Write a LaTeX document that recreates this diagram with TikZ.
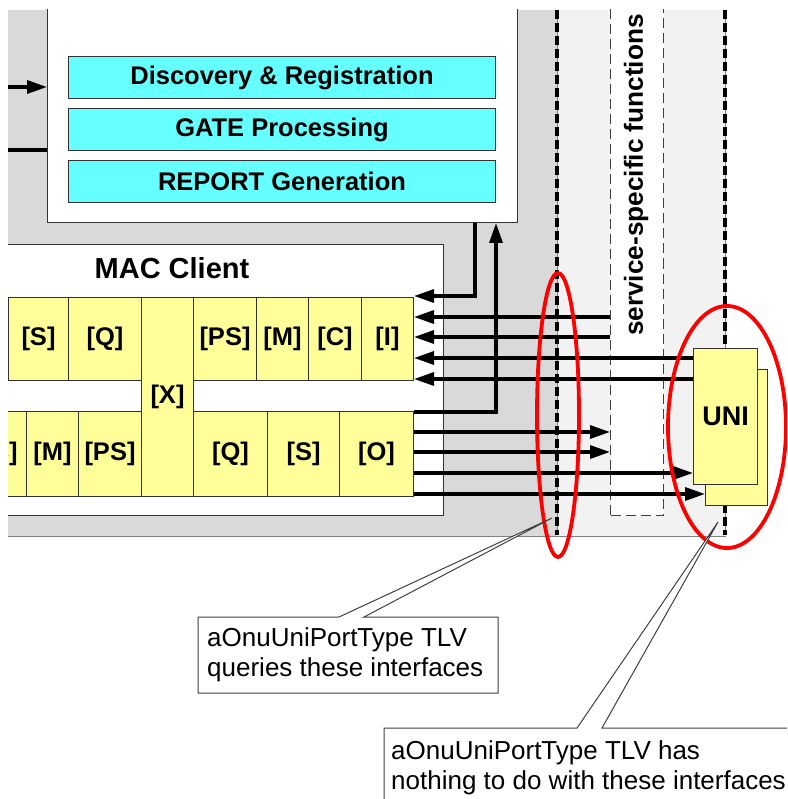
\documentclass[tikz,border=0pt]{standalone}
\usepackage{fontspec}
\setmainfont{Liberation Sans}
\usetikzlibrary{arrows.meta}
\definecolor{darkbg}{HTML}{D9D9D9}
\definecolor{lightbg}{HTML}{F2F2F2}
\definecolor{yel}{HTML}{FFFF99}
\definecolor{cyanbox}{HTML}{66FFFF}
\definecolor{edge}{HTML}{333333}
\definecolor{callgray}{HTML}{404040}
\definecolor{ringred}{HTML}{FF0000}
\begin{document}
\begin{tikzpicture}[x=1pt,y=-1pt,
  boxfont/.style={font=\fontsize{25.5}{28}\selectfont\bfseries},
  cell/.style={draw=edge, line width=1pt, fill=yel, anchor=north west, inner sep=0pt, boxfont},
  func/.style={draw=edge, line width=1pt, fill=cyanbox, anchor=north west, inner sep=0pt,
               minimum width=427pt, minimum height=42pt, boxfont},
  panel/.style={draw=edge, line width=1pt, fill=white, anchor=north west, inner sep=0pt},
  arr/.style={line width=3.3pt, -{Triangle[length=20pt,width=13pt]}},
  plainline/.style={line width=3.3pt},
  ifback/.style={line width=0.8pt, gray},
  iffront/.style={line width=4.8pt, dash pattern=on 9pt off 4pt},
  redring/.style={draw=ringred, line width=3.8pt},
  callout/.style={draw=callgray, line width=1pt, fill=white},
  calltext/.style={anchor=north west, align=left, inner sep=0pt, font=\fontsize{26}{30.5}\selectfont}
]
\useasboundingbox (0,0) rectangle (787,799);
\clip (8,10) rectangle (787,799);

% backgrounds
\fill[darkbg] (0,10) rectangle (557,536);
\fill[lightbg] (557,10) rectangle (726,536);
\draw[gray, line width=1pt] (0,536) -- (726,536);

% management box
\node[panel, minimum width=470pt, minimum height=232pt] (mgmt) at (47,-10) {};
\node[func] (disc) at (68,56) {Discovery \& Registration};
\node[func] (gate) at (68,108) {GATE Processing};
\node[func] (rep) at (68,160) {REPORT Generation};

\coordinate (inL) at (0,87);
\coordinate (inL2) at (0,150);
\draw[arr] (inL) -- (mgmt.west |- inL);
\draw[plainline] (inL2) -- (mgmt.west |- inL2);

% service specific box
\node[draw=callgray, dash pattern=on 10pt off 5pt, line width=1pt, fill=white,
      anchor=north west, inner sep=0pt, minimum width=53pt, minimum height=530pt] (svc) at (610,-15) {};
\node[rotate=90, font=\fontsize{26.2}{28}\selectfont\bfseries] (svctext) at (636,175) {service-specific functions};

% interface lines
\coordinate (ifAtop) at (557,10);
\coordinate (ifAbot) at (557,535);
\coordinate (ifBtop) at (725,10);
\coordinate (ifBbot) at (725,535);
\draw[ifback] (ifAtop) -- (ifAbot);
\draw[iffront] (ifAtop) -- (ifAbot);
\draw[ifback] (ifBtop) -- (ifBbot);
\draw[iffront] (ifBtop) -- (ifBbot);

% MAC client
\node[panel, minimum width=453pt, minimum height=271pt] (mac) at (-10,244) {};
\node[font=\fontsize{29}{32}\selectfont\bfseries] (mactitle) at (172,268) {MAC Client};

\node[cell, minimum width=60pt, minimum height=83pt] (tS) at (8,297) {[S]};
\node[cell, minimum width=73pt, minimum height=83pt] (tQ) at (68,297) {[Q]};
\node[cell, minimum width=52pt, minimum height=199pt] (X) at (141,297) {[X]};
\node[cell, minimum width=63pt, minimum height=83pt] (tPS) at (193,297) {[PS]};
\node[cell, minimum width=52pt, minimum height=83pt] (tM) at (256,297) {[M]};
\node[cell, minimum width=53pt, minimum height=83pt] (tC) at (308,297) {[C]};
\node[cell, minimum width=52pt, minimum height=83pt] (tI) at (361,297) {[I]};

\node[cell, minimum width=53pt, minimum height=85pt] (bC) at (-27,411) {[C]};
\node[cell, minimum width=52pt, minimum height=85pt] (bM) at (26,411) {[M]};
\node[cell, minimum width=63pt, minimum height=85pt] (bPS) at (78,411) {[PS]};
\node[cell, minimum width=74pt, minimum height=85pt] (bQ) at (193,411) {[Q]};
\node[cell, minimum width=72pt, minimum height=85pt] (bS) at (267,411) {[S]};
\node[cell, minimum width=74pt, minimum height=85pt] (bO) at (339,411) {[O]};

% UNI
\node[cell, minimum width=62pt, minimum height=136pt] (uniback) at (705,369) {};
\node[cell, minimum width=64pt, minimum height=136pt, font=\fontsize{27}{30}\selectfont\bfseries] (uni) at (693,348) {UNI};

% arrows into top row
\draw[arr] (mgmt.south -| 475,0) -- (475,296) -- (tI.east |- 0,296);
\draw[arr] (svc.west |- 0,317) -- (tI.east |- 0,317);
\draw[arr] (svc.west |- 0,337) -- (tI.east |- 0,337);
\draw[arr] (uni.west |- 0,358) -- (tI.east |- 0,358);
\draw[arr] (uni.west |- 0,379) -- (tI.east |- 0,379);

% arrows out of bottom row
\draw[arr] (bO.east |- 0,412) -- (496,412) -- (mgmt.south -| 496,0);
\draw[arr] (bO.east |- 0,432) -- (svc.west |- 0,432);
\draw[arr] (bO.east |- 0,452) -- (svc.west |- 0,452);
\draw[arr] (bO.east |- 0,473) -- (uni.west |- 0,473);
\draw[arr] (bO.east |- 0,494) -- (uniback.west |- 0,494);

% red rings
\draw[redring] (558,415) ellipse [x radius=21pt, y radius=142pt];
\draw[redring] (727,427) ellipse [x radius=59pt, y radius=121pt];

% callouts
\filldraw[callout] (198,617) -- (339,617) -- (552,518) -- (364,617) -- (498,617)
  -- (498,693) -- (198,693) -- cycle;
\node[calltext] (c1) at (207,627) {aOnuUniPortType TLV\\queries these interfaces};

\filldraw[callout] (384,728) -- (577,728) -- (718,522) -- (602,728) -- (800,728)
  -- (800,810) -- (384,810) -- cycle;
\node[calltext] (c2) at (391,740) {aOnuUniPortType TLV has\\nothing to do with these interfaces};
\end{tikzpicture}
\end{document}
